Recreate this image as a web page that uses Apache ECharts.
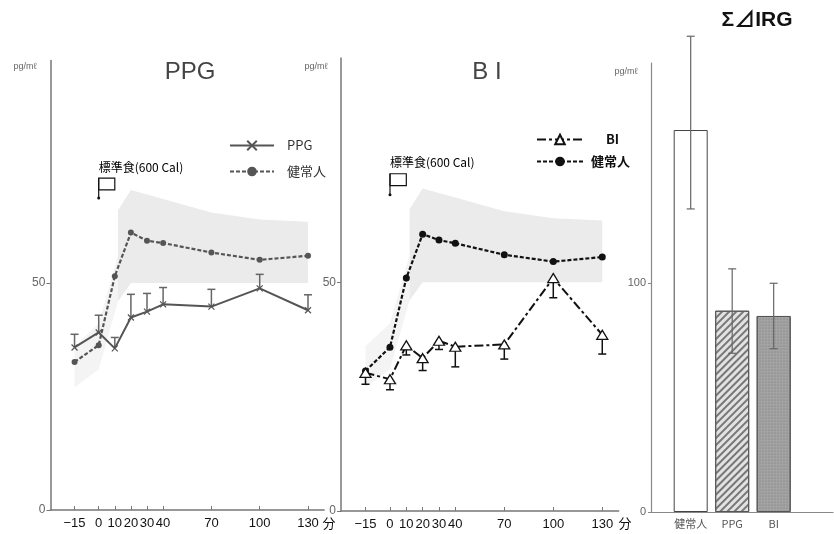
<!DOCTYPE html>
<html><head><meta charset="utf-8">
<script src="https://cdn.jsdelivr.net/npm/echarts@6/dist/echarts.min.js"></script>
<style>html,body{margin:0;padding:0;background:#fff}#c{width:834px;height:534px}</style>
</head><body><div id="c"></div>
<script>
// ---- data ----
const times = [-15, 0, 10, 20, 30, 40, 70, 100, 130];
const xTicks = [-15, 0, 10, 20, 30, 40, 70, 100, 130];
const yTicksLine = [0, 50];
const yTicksBar = [0, 100];

const ppg      = [35.8, 39.1, 35.6, 42.4, 43.7, 45.3, 44.8, 48.8, 44.0];
const ppgErrHi = [38.7, 42.9, 38.0, 47.5, 47.7, 49.0, 48.6, 51.9, 47.4];
const normal1  = [32.6, 36.3, 51.5, 61.1, 59.3, 58.8, 56.7, 55.1, 56.0];

const bi       = [30.2, 28.8, 36.2, 33.4, 37.2, 35.9, 36.4, 50.9, 38.5];
const biErrLo  = [27.7, 26.5, 34.1, 30.7, 35.3, 31.5, 33.2, 46.6, 34.3];
const normal2  = [30.6, 35.8, 50.9, 60.5, 59.2, 58.5, 56.0, 54.5, 55.5];

// normal range (shaded), from 10 min onward, plus faint early part
const bandTimes = [12, 20, 30, 40, 70, 100, 130];
const bandLo    = [46, 50, 50, 50, 50, 50, 50];
const bandHi    = [66, 70.5, 69.5, 68.5, 65.5, 64, 63.5];
const earlyTimes = [-15, 0, 12];
const earlyLo    = [27, 31, 46];
const earlyHi    = [36, 41, 56];

const barCats   = ['健常人', 'PPG', 'BI'];
const barVals   = [167, 88, 85.7];
const barErrHi  = [208, 106.3, 100];
const barErrLo  = [132.5, 69.4, 71.4];

// ---- helpers ----
const FONT = "'Liberation Sans','Noto Sans CJK JP',sans-serif";
const CJK = "'Noto Sans CJK JP','Liberation Sans',sans-serif";
const pair = (xs, ys) => xs.map((x, i) => [x, ys[i]]);
const minusFmt = v => (v < 0 ? '\u2212' + (-v) : String(v));
const crossPath = 'path://M0,0L10,10M10,0L0,10';

function errRender(color, lw) {
  return function (params, api) {
    const x = api.value(0), y = api.value(1), e = api.value(2);
    const p1 = api.coord([x, y]), p2 = api.coord([x, e]);
    const st = { stroke: color, lineWidth: lw };
    return { type: 'group', children: [
      { type: 'line', shape: { x1: p1[0], y1: p1[1], x2: p2[0], y2: p2[1] }, style: st },
      { type: 'line', shape: { x1: p2[0] - 4, y1: p2[1], x2: p2[0] + 4, y2: p2[1] }, style: st }
    ]};
  };
}
function polyOf(api, ts, lo, hi) {
  const pts = [];
  for (let i = 0; i < ts.length; i++) pts.push(api.coord([ts[i], hi[i]]));
  for (let i = ts.length - 1; i >= 0; i--) pts.push(api.coord([ts[i], lo[i]]));
  return pts;
}
function bandRender(params, api) {
  if (params.dataIndex !== 0) return null;
  return { type: 'group', children: [
    { type: 'polygon', shape: { points: polyOf(api, earlyTimes, earlyLo, earlyHi) }, style: { fill: '#f4f4f4' } },
    { type: 'polygon', shape: { points: polyOf(api, bandTimes, bandLo, bandHi) }, style: { fill: '#ebebeb' } }
  ]};
}
function flagRender(textY, topY, botY, poleY) {
  return function (params, api) {
    const t = api.coord([0, textY]);
    const a = api.coord([0, topY]);
    const b = api.coord([10, botY]);
    const p = api.coord([0, poleY]);
    const st = { stroke: '#111', lineWidth: 1.2, fill: null };
    return { type: 'group', children: [
      { type: 'text', x: t[0], y: t[1], style: { text: '標準食(600 Cal)', font: '12px ' + CJK, fill: '#000', textAlign: 'left', textVerticalAlign: 'middle' } },
      { type: 'rect', shape: { x: a[0], y: a[1], width: b[0] - a[0], height: b[1] - a[1] }, style: { stroke: '#111', lineWidth: 1.2, fill: '#fff' } },
      { type: 'line', shape: { x1: a[0], y1: a[1], x2: p[0], y2: p[1] }, style: st },
      { type: 'circle', shape: { cx: p[0], cy: p[1], r: 1.5 }, style: { fill: '#111' } }
    ]};
  };
}
function barErrRender(params, api) {
  const x = api.value(0), lo = api.value(1), hi = api.value(2);
  const a = api.coord([x, lo]), b = api.coord([x, hi]);
  const st = { stroke: '#666', lineWidth: 1.2 };
  return { type: 'group', children: [
    { type: 'line', shape: { x1: a[0], y1: a[1], x2: b[0], y2: b[1] }, style: st },
    { type: 'line', shape: { x1: a[0] - 4, y1: a[1], x2: a[0] + 4, y2: a[1] }, style: st },
    { type: 'line', shape: { x1: b[0] - 4, y1: b[1], x2: b[0] + 4, y2: b[1] }, style: st }
  ]};
}

function lineX(gi) {
  return { gridIndex: gi, type: 'value', min: -30, max: 140,
    axisLine: { onZero: false, lineStyle: { color: '#777', width: 1.5 } },
    axisTick: { customValues: xTicks, inside: true, length: 4, lineStyle: { color: '#777' } },
    axisLabel: { customValues: xTicks, formatter: minusFmt, color: '#111', fontSize: 13, fontFamily: FONT, margin: 7 },
    splitLine: { show: false } };
}
function lineY(gi) {
  return { gridIndex: gi, type: 'value', min: 0, max: 99,
    axisLine: { show: true, onZero: false, lineStyle: { color: '#777', width: 1.5 } },
    axisTick: { show: true, customValues: yTicksLine, length: 4, lineStyle: { color: '#777' } },
    axisLabel: { customValues: yTicksLine, color: '#666', fontSize: 12, fontFamily: FONT, margin: 5 },
    splitLine: { show: false } };
}

const barData = barCats.map((c, i) => ({ value: [i, barVals[i]], itemStyle: [
  { color: '#fff', borderColor: '#444', borderWidth: 1 },
  { color: '#e2e2e2', borderColor: '#555', borderWidth: 1,
    decal: { symbol: 'rect', color: '#777', dashArrayX: [1, 0], dashArrayY: [1.2, 2.2], rotation: -Math.PI / 4 } },
  { color: '#a3a3a3', borderColor: '#555', borderWidth: 1,
    decal: { symbol: 'circle', symbolSize: 0.6, color: '#7a7a7a', dashArrayX: [2, 1], dashArrayY: [2, 1], rotation: 0 } }
][i] }));

const option = {
  animation: false,
  backgroundColor: '#fff',
  textStyle: { fontFamily: FONT },
  grid: [
    { left: 50.4, top: 60.5, width: 273.7, height: 449.5 },
    { left: 341, top: 58, width: 277.6, height: 453 },
    { left: 651, top: 63, width: 182, height: 449 }
  ],
  xAxis: [
    lineX(0), lineX(1),
    { gridIndex: 2, type: 'value', min: -0.957, max: 3.43,
      axisLine: { onZero: false, lineStyle: { color: '#888', width: 1.2 } },
      axisTick: { show: false },
      axisLabel: { customValues: [0, 1, 2], formatter: v => barCats[Math.round(v)], color: '#555', fontSize: 11, fontFamily: CJK, margin: 6 },
      splitLine: { show: false } }
  ],
  yAxis: [
    lineY(0), lineY(1),
    { gridIndex: 2, type: 'value', min: 0, max: 196.3,
      axisLine: { show: true, onZero: false, lineStyle: { color: '#888', width: 1.2 } },
      axisTick: { show: true, customValues: yTicksBar, length: 3, lineStyle: { color: '#888' } },
      axisLabel: { customValues: yTicksBar, color: '#666', fontSize: 11, fontFamily: FONT, margin: 5 },
      splitLine: { show: false } }
  ],
  legend: [
    { left: 224, top: 134, orient: 'vertical', itemWidth: 44, itemHeight: 12, itemGap: 13,
      textStyle: { color: '#333', fontSize: 13, fontFamily: CJK, padding: [0, 0, 0, 8] },
      data: ['PPG', '健常人'] },
    { left: 531, top: 128, orient: 'vertical', itemWidth: 46, itemHeight: 12, itemGap: 9,
      textStyle: { color: '#111', fontSize: 13, fontFamily: CJK, fontWeight: 'bold' },
      data: [{ name: 'BI', textStyle: { padding: [0, 0, 0, 18] } }, { name: '健常人 ', textStyle: { padding: [0, 0, 0, 3] } }] }
  ],
  graphic: [
    { type: 'text', x: 190, y: 72, style: { text: 'PPG', font: '24px ' + FONT, fill: '#444', textAlign: 'center', textVerticalAlign: 'middle' } },
    { type: 'text', x: 487, y: 72, style: { text: 'B I', font: '24px ' + FONT, fill: '#444', textAlign: 'center', textVerticalAlign: 'middle' } },
    { type: 'text', x: 757, y: 20, style: { text: 'Σ⊿IRG', font: 'bold 21px ' + FONT, fill: '#111', textAlign: 'center', textVerticalAlign: 'middle' } },
    { type: 'text', x: 25, y: 67, style: { text: 'pg/mℓ', font: '9px ' + FONT, fill: '#666', textAlign: 'center', textVerticalAlign: 'middle' } },
    { type: 'text', x: 316, y: 67, style: { text: 'pg/mℓ', font: '9px ' + FONT, fill: '#666', textAlign: 'center', textVerticalAlign: 'middle' } },
    { type: 'text', x: 626, y: 72, style: { text: 'pg/mℓ', font: '9px ' + FONT, fill: '#666', textAlign: 'center', textVerticalAlign: 'middle' } },
    { type: 'text', x: 329, y: 523, style: { text: '分', font: '13px ' + CJK, fill: '#111', textAlign: 'center', textVerticalAlign: 'middle' } },
    { type: 'text', x: 625, y: 523, style: { text: '分', font: '13px ' + CJK, fill: '#111', textAlign: 'center', textVerticalAlign: 'middle' } }
  ],
  series: [
    // panel 1
    { type: 'custom', xAxisIndex: 0, yAxisIndex: 0, data: [[0, 0]], renderItem: bandRender, z: 1, silent: true },
    { name: '健常人', type: 'line', xAxisIndex: 0, yAxisIndex: 0, data: pair(times, normal1),
      symbol: 'circle', symbolSize: 6, itemStyle: { color: '#555' },
      lineStyle: { color: '#555', width: 2.2, type: [4, 2] }, z: 3 },
    { name: 'PPG', type: 'line', xAxisIndex: 0, yAxisIndex: 0, data: pair(times, ppg),
      symbol: crossPath, symbolSize: 6, itemStyle: { color: '#555', borderColor: '#555', borderWidth: 1.2 },
      lineStyle: { color: '#555', width: 2 }, z: 3 },
    { type: 'custom', xAxisIndex: 0, yAxisIndex: 0, data: times.map((t, i) => [t, ppg[i], ppgErrHi[i]]),
      renderItem: errRender('#666', 1.5), z: 2, silent: true },
    { type: 'custom', xAxisIndex: 0, yAxisIndex: 0, data: [[0, 0]], renderItem: flagRender(75.5, 73.1, 70.5, 68.7), clip: false, z: 4, silent: true },
    // panel 2
    { type: 'custom', xAxisIndex: 1, yAxisIndex: 1, data: [[0, 0]], renderItem: bandRender, z: 1, silent: true },
    { name: '健常人 ', type: 'line', xAxisIndex: 1, yAxisIndex: 1, data: pair(times, normal2),
      symbol: 'circle', symbolSize: 7, itemStyle: { color: '#111' },
      lineStyle: { color: '#111', width: 2.2, type: [4, 2] }, z: 3 },
    { type: 'custom', xAxisIndex: 1, yAxisIndex: 1, data: times.map((t, i) => [t, bi[i], biErrLo[i]]),
      renderItem: errRender('#111', 1.5), z: 2, silent: true },
    { name: 'BI', type: 'line', xAxisIndex: 1, yAxisIndex: 1, data: pair(times, bi),
      symbol: 'triangle', symbolSize: [11, 9], itemStyle: { color: '#fff', borderColor: '#111', borderWidth: 1.3 },
      lineStyle: { color: '#111', width: 2, type: [9, 3, 3, 3] }, z: 4 },
    { type: 'custom', xAxisIndex: 1, yAxisIndex: 1, data: [[0, 0]], renderItem: flagRender(76.1, 73.7, 71.1, 69.1), clip: false, z: 4, silent: true },
    // panel 3
    { type: 'bar', xAxisIndex: 2, yAxisIndex: 2, barWidth: 34, data: barData, z: 2 },
    { type: 'custom', xAxisIndex: 2, yAxisIndex: 2, data: barCats.map((c, i) => [i, barErrLo[i], barErrHi[i]]),
      renderItem: barErrRender, clip: false, z: 3, silent: true }
  ]
};
const chart = echarts.init(document.getElementById('c'), null, { renderer: 'canvas' });
chart.setOption(option);
</script>
</body></html>
